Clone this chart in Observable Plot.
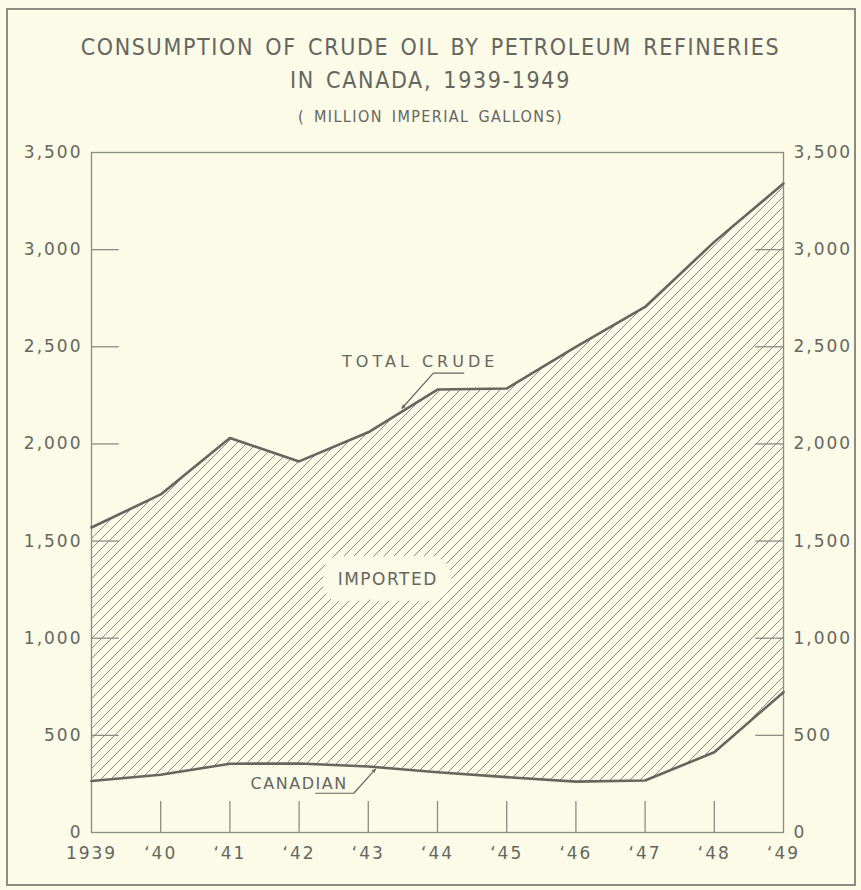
<!DOCTYPE html>
<html>
<head>
<meta charset="utf-8">
<script src="https://cdn.jsdelivr.net/npm/d3@7"></script>
<script src="https://cdn.jsdelivr.net/npm/@observablehq/plot@0.6"></script>
<style>
  html, body { margin: 0; padding: 0; background: #fbfbe8; }
  #page { position: relative; width: 861px; height: 890px; background: #fbfbe8; overflow: hidden; }
  #border { position: absolute; left: 6px; top: 8px; width: 846px; height: 874px; border: 2px solid #8c8c84; }
  .t { position: absolute; left: 0; width: 861px; text-align: center; color: #666660;
       font-family: "DejaVu Sans Condensed", "DejaVu Sans", sans-serif; white-space: nowrap; }
  #t1 { top: 34px; font-size: 23px; letter-spacing: 1.65px; word-spacing: 3px; }
  #t2 { top: 67px; font-size: 23px; letter-spacing: 1.65px; word-spacing: 3px; }
  #t3 { top: 107px; font-size: 16px; letter-spacing: 1.4px; word-spacing: 3px; }
  #chart { position: absolute; left: 0; top: 130px; }
  #chart svg text { letter-spacing: 2px; }
</style>
</head>
<body>
<div id="page">
  <div id="border"></div>
  <div class="t" id="t1">CONSUMPTION OF CRUDE OIL BY PETROLEUM REFINERIES</div>
  <div class="t" id="t2">IN CANADA, 1939-1949</div>
  <div class="t" id="t3">( MILLION IMPERIAL GALLONS)</div>
  <div id="chart"></div>
</div>
<script>
// ---- data (million imperial gallons) ----
const years = [1939, 1940, 1941, 1942, 1943, 1944, 1945, 1946, 1947, 1948, 1949];
const totalCrude = [1570, 1740, 2030, 1910, 2060, 2280, 2285, 2500, 2705, 3040, 3340];
const canadianCrude = [265, 297, 354, 355, 340, 310, 285, 262, 268, 413, 722];
const xTickLabels = ["1939", "\u201840", "\u201841", "\u201842", "\u201843", "\u201844", "\u201845", "\u201846", "\u201847", "\u201848", "\u201849"];
const yTicks = [0, 500, 1000, 1500, 2000, 2500, 3000, 3500];

// annotation labels (data coordinates)
const labelText = ["TOTAL CRUDE", "IMPORTED", "CANADIAN"];
const labelYear = [1943.75, 1943.28, 1942.0];
const labelValue = [2420, 1300, 252];
const totalLeaderYear = [1944.38, 1943.94, 1943.49];
const totalLeaderValue = [2364, 2364, 2185];
const canadianLeaderYear = [1942.24, 1942.79, 1943.1];
const canadianLeaderValue = [202, 202, 325];

const rows = years.map((y, i) => ({year: y, total: totalCrude[i], canadian: canadianCrude[i]}));
const labels = labelText.map((t, i) => ({text: t, year: labelYear[i], value: labelValue[i]}));
const totalLeader = totalLeaderYear.map((y, i) => ({year: y, value: totalLeaderValue[i]}));
const canadianLeader = canadianLeaderYear.map((y, i) => ({year: y, value: canadianLeaderValue[i]}));

const ink = "#66665f";
const bg = "#fbfbe8";
const x0 = years[0], x1 = years[years.length - 1];
const innerTicks = yTicks.slice(1, -1);
const tickLenYears = 0.4;
const tickLenValue = 160;

const plot = Plot.plot({
  width: 861,
  height: 742,
  marginTop: 22,
  marginBottom: 40,
  marginLeft: 91,
  marginRight: 78,
  x: {domain: [x0, x1]},
  y: {domain: [0, 3500]},
  style: {background: "transparent", fontFamily: "DejaVu Sans, sans-serif", fontSize: "16px", color: ink},
  marks: [
    Plot.areaY(rows, {x: "year", y1: "canadian", y2: "total", fill: "url(#hatch)"}),
    Plot.frame({stroke: "#8c8c86", strokeWidth: 1.3}),
    Plot.ruleY(innerTicks, {x1: x0, x2: x0 + tickLenYears, stroke: "#8c8c86", strokeWidth: 1.3}),
    Plot.ruleY(innerTicks, {x1: x1 - tickLenYears, x2: x1, stroke: "#8c8c86", strokeWidth: 1.3}),
    Plot.ruleX(years.slice(1, -1), {y1: 0, y2: tickLenValue, stroke: "#8c8c86", strokeWidth: 1.3}),
    Plot.line(rows, {x: "year", y: "total", stroke: ink, strokeWidth: 2.6}),
    Plot.line(rows, {x: "year", y: "canadian", stroke: ink, strokeWidth: 2.6}),
    Plot.line(totalLeader, {x: "year", y: "value", stroke: ink, strokeWidth: 1.2, markerEnd: "arrow"}),
    Plot.line(canadianLeader, {x: "year", y: "value", stroke: ink, strokeWidth: 1.2, markerEnd: "arrow"}),
    Plot.text(labels.filter(d => d.text === "IMPORTED"), {x: "year", y: "value", text: "text", fill: ink,
      stroke: bg, strokeWidth: 32, strokeLinejoin: "round", fontSize: 17}),
    Plot.text(labels.filter(d => d.text !== "IMPORTED"), {x: "year", y: "value", text: "text", fill: ink,
      fontSize: 16}),
    Plot.axisY({anchor: "left", ticks: yTicks, tickSize: 0, tickPadding: 9, tickFormat: d3.format(","), label: null, fontSize: 17}),
    Plot.axisY({anchor: "right", ticks: yTicks, tickSize: 0, tickPadding: 10, tickFormat: d3.format(","), label: null, fontSize: 17}),
    Plot.axisX({ticks: years, tickSize: 0, tickPadding: 14, tickFormat: d => xTickLabels[years.indexOf(d)], label: null, fontSize: 17})
  ]
});

// hatch pattern
const svg = d3.select(plot);
const defs = svg.insert("defs", ":first-child");
const pat = defs.append("pattern").attr("id", "hatch").attr("patternUnits", "userSpaceOnUse")
  .attr("width", 10).attr("height", 10);
pat.append("path").attr("d", "M-2,2 L2,-2 M0,10 L10,0 M8,12 L12,8")
  .attr("stroke", "#8a8a84").attr("stroke-width", 1).attr("fill", "none");

// filled arrowheads on leader lines
svg.selectAll("marker path")
  .attr("d", "M-4,-2.5L1.5,0L-4,2.5Z")
  .attr("fill", ink).attr("stroke", "none");

// letter spacing for annotation labels
svg.selectAll("text").each(function() {
  const t = this.textContent;
  if (t === "TOTAL CRUDE") this.style.letterSpacing = "4px";
  else if (t === "IMPORTED" || t === "CANADIAN") this.style.letterSpacing = "1.5px";
});

document.getElementById("chart").appendChild(plot);
</script>
</body>
</html>
